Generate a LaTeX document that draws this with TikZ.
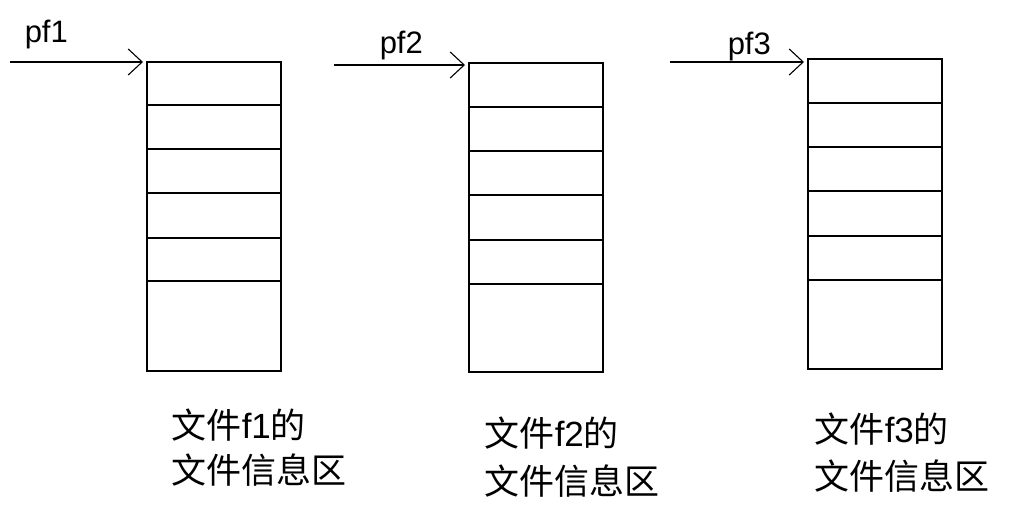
\documentclass[tikz,border=0pt]{standalone}
\usepackage{fontspec}
\setmainfont{Liberation Sans}
\newfontfamily\cjk{Noto Sans CJK SC}
\newfontfamily\lat{Liberation Sans}
\usetikzlibrary{arrows.meta}
\begin{document}
\begin{tikzpicture}[x=1pt,y=-1pt,
  line width=1.5pt,
  cell/.style={draw, minimum width=134pt, inner sep=0pt, outer sep=0pt, anchor=north west},
  ptr/.style={-{Straight Barb[length=14pt,width=26pt,line width=1.1pt]}, line width=1.1pt, shorten >=4pt},
  plab/.style={font=\fontsize{31}{34}\selectfont, inner sep=0pt, anchor=base west},
  clab/.style={font=\cjk\fontsize{35}{#1}\selectfont, align=left, inner sep=0pt, anchor=north west}]
\useasboundingbox (0,0) rectangle (1015,513);
% box 1
\node[cell, minimum height=309pt] (b1) at (147,62) {};
\draw (147,105) -- (281,105) (147,149) -- (281,149) (147,193) -- (281,193) (147,238) -- (281,238) (147,281) -- (281,281);
% box 2
\node[cell, minimum height=309pt] (b2) at (469,63) {};
\draw (469,107) -- (603,107) (469,151) -- (603,151) (469,195) -- (603,195) (469,240) -- (603,240) (469,284) -- (603,284);
% box 3
\node[cell, minimum height=310pt] (b3) at (808,59) {};
\draw (808,103) -- (942,103) (808,147) -- (942,147) (808,191) -- (942,191) (808,236) -- (942,236) (808,280) -- (942,280);
% pointers
\coordinate (s1) at (10,62);
\coordinate (s2) at (334,65);
\coordinate (s3) at (670,62);
\draw[ptr] (s1) -- (b1.north west |- s1);
\draw[ptr] (s2) -- (b2.north west |- s2);
\draw[ptr] (s3) -- (b3.north west |- s3);
\node[plab] (p1) at (24,43) {pf1};
\node[plab] (p2) at (379,54) {pf2};
\node[plab] (p3) at (727,55) {pf3};
% labels
\node[clab=45] (l1) at (171,408) {文件{\lat f1}的\\文件信息区};
\node[clab=48] (l2) at (484,416) {文件{\lat f2}的\\文件信息区};
\node[clab=47] (l3) at (814,412) {文件{\lat f3}的\\文件信息区};
\end{tikzpicture}
\end{document}
